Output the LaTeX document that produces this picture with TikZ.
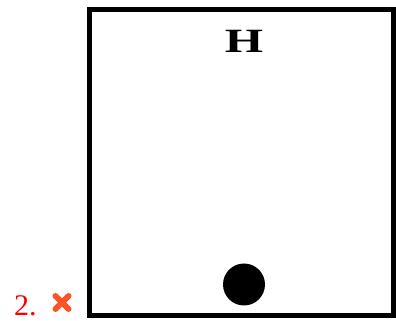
\documentclass[tikz,border=0pt]{standalone}
\usepackage{fontspec}
\setmainfont{Liberation Serif}
\usetikzlibrary{positioning}

\begin{document}
\begin{tikzpicture}[
    x=1pt,y=1pt,
    card/.style={draw,line width=5pt,minimum width=304pt,minimum height=306pt,
                 inner sep=0pt},
    letter/.style={font=\bfseries\fontsize{34}{34}\selectfont,inner sep=0pt},
    ball/.style={circle,fill=black,minimum size=42pt,inner sep=0pt},
    numlabel/.style={text=red,font=\fontsize{30}{30}\selectfont,inner sep=0pt,anchor=base west},
    wrong/.style={line width=6pt,draw=red!60!orange!85,line cap=round}
  ]
    \useasboundingbox (0,0) rectangle (396,321);
    \node[card] (box) at (241,158) {};
    \node[letter] (sym) at (244,280) {\scalebox{1.45}[1]{H}};
    \node[ball] (dot) at (244,36.5) {};
    \node[numlabel] (num) at (14,5.5) {2.};
    \coordinate (mark) at (62,18.5);
    \draw[wrong] ([shift={(-6.5,-6.5)}]mark) -- ([shift={(6.5,6.5)}]mark);
    \draw[wrong] ([shift={(-6.5,6.5)}]mark) -- ([shift={(6.5,-6.5)}]mark);
  \end{tikzpicture}
\end{document}
